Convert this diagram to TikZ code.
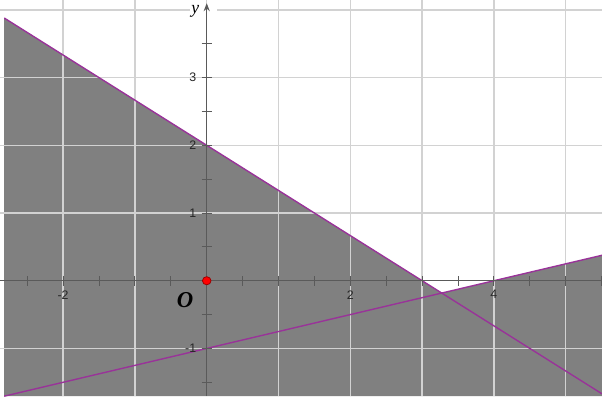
\documentclass[tikz,border=0pt]{standalone}
\usepackage{fontspec}
\newfontfamily\timesfont{Liberation Serif}
\newfontfamily\arialfont{Liberation Sans}
\usepackage{tikz}
\usetikzlibrary{arrows.meta}
\definecolor{luoi}{HTML}{D2D2D2}
\definecolor{vung}{HTML}{808080}
\definecolor{tim}{HTML}{993399}
\definecolor{truc}{HTML}{5A5A5A}
\tikzset{
  nhan/.style={inner sep=0pt, text=black!85, font=\arialfont\fontsize{4.9}{5}\selectfont},
  duongke/.style={tim, line width=0.55pt},
  vach/.style={truc, line width=0.4pt}
}

\begin{document}
\begin{tikzpicture}[x=1cm, y=0.943cm, >={Stealth[length=3.2pt,width=2.4pt]}]
            \useasboundingbox (-2.879,-1.703) rectangle (5.505,4.146);
            % Tọa độ
            \coordinate (O) at (0,0);
            \coordinate (M) at (-2.82,-1.703);
            \coordinate (N) at (5.505,4.146);
            \coordinate (A) at (-2.82,3.88);
            \coordinate (B) at (5.505,-1.67);
            \coordinate (C) at (-2.82,-1.705);
            \coordinate (D) at (5.505,0.376);
            \coordinate (I) at (36/11,-2/11);
            
            % Miền nghiệm (tô xám)
            \fill[vung] (M) -- (A) -- (I) -- (D) -- (5.505,-1.703) -- cycle;
            
            % Lưới
            \foreach \x in {-2,...,5}
                \draw[luoi, line width=0.5pt] (\x,-1.703) -- (\x,4.146);
            \foreach \y in {-1,...,4}
                \draw[luoi, line width=0.5pt] (-2.879,\y) -- (5.505,\y);
            
            % Hai đường thẳng
            \begin{scope}
                \clip (M) rectangle (N);
                \draw[duongke] (A) -- (B);
                \draw[duongke] (C) -- (D);
            \end{scope}
            
            % Nhãn trục y (nền trắng)
            \node[fill=white, inner xsep=0.5pt, inner ysep=1pt, text width=0.34cm, align=left, anchor=west,
                  font=\timesfont\itshape\fontsize{7}{7}\selectfont] (ny) at (-0.24,3.98) {y};
            
            % Trục tọa độ
            \draw[vach] (-2.879,0) -- (5.505,0);
            \draw[vach, ->] (0,-1.703) -- (0,4.1);
            \foreach \x in {-2.5,-2,...,5.5}
                \draw[vach] (\x,-0.074) -- (\x,0.074);
            \foreach \y in {-1.5,-1,...,3.5}
                \draw[vach] (-0.07,\y) -- (0.07,\y);
            
            % Số trên trục
            \node[nhan] (xm2) at (-2,-0.21) {-2};
            \node[nhan] (x2) at (2,-0.21) {2};
            \node[nhan] (x4) at (4,-0.2) {4};
            \node[nhan, anchor=east] (y1) at (-0.14,1) {1};
            \node[nhan, anchor=east] (y2) at (-0.14,2) {2};
            \node[nhan, anchor=east] (y3) at (-0.14,3) {3};
            \node[nhan, anchor=east] (ym1) at (-0.14,-1) {-1};
            
            % Gốc O
            \node[font=\timesfont\bfseries\itshape\fontsize{9}{10}\selectfont] (nO) at (-0.3,-0.29) {O};
            \fill[red, draw=red!60!black, line width=0.3pt] (O) circle (0.06);
        \end{tikzpicture}
\end{document}
